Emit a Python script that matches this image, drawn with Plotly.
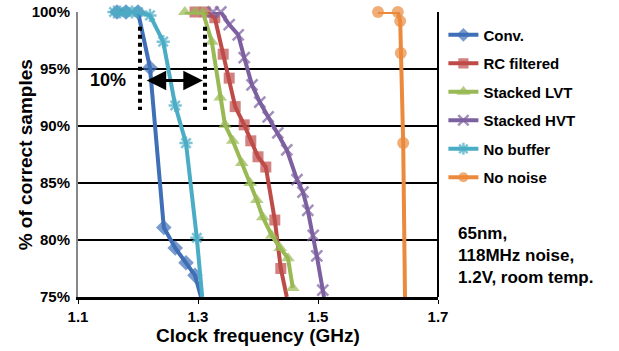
import plotly.graph_objects as go

# ---- data ----
conv_x = [1.165, 1.18, 1.20, 1.22, 1.243, 1.262, 1.28, 1.295, 1.305]
conv_y = [100, 100, 100, 95.1, 81.1, 79.3, 78.0, 76.9, 75.0]

rc_x = [1.295, 1.312, 1.328, 1.342, 1.352, 1.362, 1.377, 1.388, 1.40, 1.413, 1.428, 1.438, 1.448]
rc_y = [100, 100, 99.5, 96.3, 94.2, 91.7, 90.1, 88.7, 87.3, 86.4, 81.75, 77.5, 75.0]

lvt_x = [1.278, 1.295, 1.308, 1.323, 1.337, 1.345, 1.358, 1.373, 1.387, 1.398, 1.408, 1.423, 1.437, 1.45, 1.458]
lvt_y = [100, 100, 100, 97.4, 92.5, 90.1, 88.7, 86.75, 85.0, 83.5, 82.0, 80.4, 79.3, 78.4, 75.8]

hvt_x = [1.325, 1.338, 1.352, 1.367, 1.377, 1.39, 1.403, 1.417, 1.433, 1.448, 1.465, 1.475, 1.483, 1.492, 1.498, 1.508, 1.51]
hvt_y = [100, 100, 98.9, 98.0, 96.0, 93.6, 92.1, 90.8, 89.4, 87.9, 85.3, 84.2, 82.6, 80.4, 78.6, 75.6, 75.0]

nobuf_x = [1.16, 1.17, 1.18, 1.19, 1.20, 1.22, 1.242, 1.262, 1.28, 1.298, 1.307]
nobuf_y = [100, 100, 100, 100, 100, 99.7, 97.4, 91.8, 88.5, 80.2, 75.0]

nonoise_x = [1.60, 1.633, 1.637, 1.638, 1.642, 1.645]
nonoise_y = [100, 100, 99.2, 96.4, 88.5, 75.0]

x_ticks = [1.1, 1.3, 1.5, 1.7]
y_ticks = [75, 80, 85, 90, 95, 100]

FONT = "Arial, Liberation Sans, sans-serif"

series = [
    ("Conv.", conv_x, conv_y, "#3F6FB6", "diamond", 12, [1]*8 + [0]),
    ("RC filtered", rc_x, rc_y, "#BE4B48", "square", 11, [1]*12 + [0]),
    ("Stacked LVT", lvt_x, lvt_y, "#98B954", "triangle-up", 12, [1]*15),
    ("Stacked HVT", hvt_x, hvt_y, "#7D60A0", "x-thin", 11, [1]*16 + [0]),
    ("No buffer", nobuf_x, nobuf_y, "#4AACC5", "asterisk", 11, [1]*10 + [0]),
    ("No noise", nonoise_x, nonoise_y, "#EB8A3C", "circle", 12, [1]*5 + [0]),
]

fig = go.Figure()
for name, xs, ys, col, sym, sz, show in series:
    thin = sym in ("x-thin", "asterisk")
    fig.add_trace(go.Scatter(
        x=xs, y=ys, mode="lines+markers", name=f"<b>{name}</b>",
        legendgroup=name,
        line=dict(color=col, width=4),
        marker=dict(symbol=sym, size=[sz * s for s in show], color=col,
                    line=dict(color=col, width=2.5 if thin else 0)),
        cliponaxis=False,
    ))

# dotted guide lines and double arrow
for xv in [1.2033, 1.3117]:
    fig.add_shape(type="line", x0=xv, x1=xv, y0=98.7, y1=91.4, xref="x", yref="y",
                  line=dict(color="black", width=4, dash="dot"))
fig.add_annotation(x=1.308, y=94.0, ax=1.212, ay=94.0, xref="x", yref="y", axref="x", ayref="y",
                   showarrow=True, arrowhead=2, arrowside="end+start", arrowsize=1.3,
                   arrowwidth=3, arrowcolor="black", text="")
fig.add_annotation(x=1.184, y=94.0, xref="x", yref="y", xanchor="right", text="<b>10%</b>", showarrow=False,
                   font=dict(family=FONT, size=18, color="black"))

# right border
fig.add_shape(type="line", x0=1, x1=1, y0=0, y1=1, xref="paper", yref="paper",
              line=dict(color="black", width=2))

fig.add_annotation(x=1.05, y=0.262, xref="paper", yref="paper", xanchor="left", yanchor="top",
                   align="left", showarrow=False,
                   text="<b>65nm,<br>118MHz noise,<br>1.2V, room temp.</b>",
                   font=dict(family=FONT, size=17, color="black"))

# y-axis title
fig.add_annotation(x=-0.145, y=0.5, xref="paper", yref="paper", textangle=-90,
                   xanchor="center", yanchor="middle", showarrow=False,
                   text="<b>% of correct samples</b>", font=dict(family=FONT, size=19, color="black"))

fig.update_layout(
    width=619, height=351,
    margin=dict(l=78, r=181, t=12, b=54, autoexpand=False),
    paper_bgcolor="white", plot_bgcolor="white",
    font=dict(family=FONT, color="black"),
    showlegend=True,
    legend=dict(x=1.015, y=0.977, xanchor="left", yanchor="top",
                font=dict(family=FONT, size=15, color="black"),
                itemwidth=30, tracegroupgap=6, bgcolor="rgba(0,0,0,0)"),
    xaxis=dict(range=[1.1, 1.7], tickvals=x_ticks, ticktext=[f"<b>{v:.1f}</b>" for v in x_ticks],
               showgrid=False, zeroline=False, showline=True, linecolor="black", linewidth=3,
               ticks="outside", ticklen=4, tickcolor="black", automargin=False,
               tickfont=dict(family=FONT, size=15, color="black"),
               title=dict(text="<b>Clock frequency (GHz)</b>", font=dict(family=FONT, size=19), standoff=1)),
    yaxis=dict(range=[75, 100], tickvals=y_ticks, ticktext=[f"<b>{v}%</b>" for v in y_ticks],
               showgrid=True, gridcolor="black", gridwidth=2, zeroline=False,
               showline=True, linecolor="#888888", linewidth=2, automargin=False,
               ticks="", ticklabelstandoff=3, tickfont=dict(family=FONT, size=15, color="black")),
)

fig.write_html("out.html")
